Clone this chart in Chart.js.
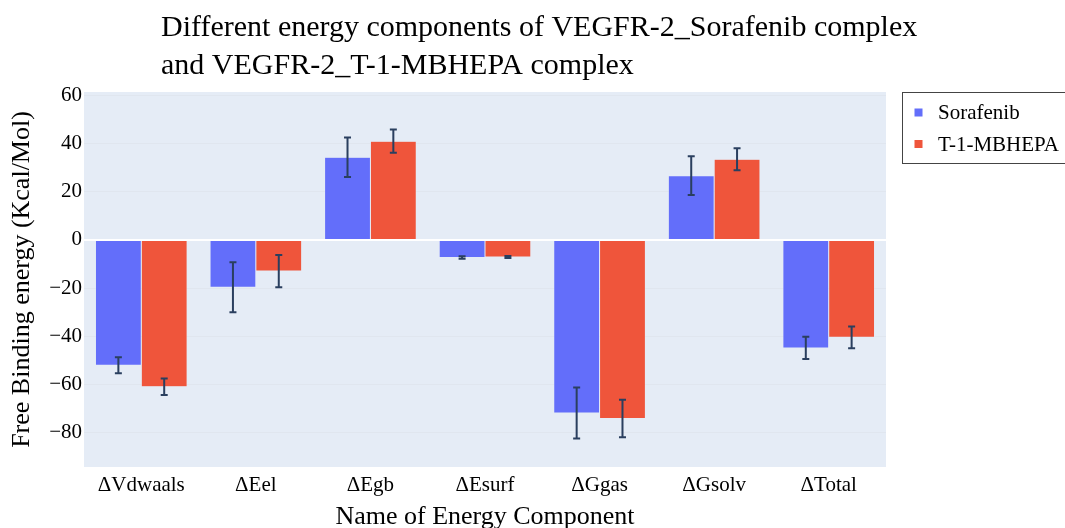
<!DOCTYPE html>
<html>
<head>
<meta charset="utf-8">
<script src="https://cdn.jsdelivr.net/npm/chart.js@4.4.1/dist/chart.umd.min.js"></script>
<style>
html,body{margin:0;padding:0;background:#fff;}
#wrap{position:relative;width:1065px;height:528px;}
</style>
</head>
<body>
<div id="wrap"><canvas id="c" width="1065" height="528"></canvas></div>
<script>
const categories = ['\u0394Vdwaals', '\u0394Eel', '\u0394Egb', '\u0394Esurf', '\u0394Ggas', '\u0394Gsolv', '\u0394Total'];
const sorafenib = [-52.0, -19.6, 34.3, -7.3, -71.8, 26.7, -44.8];
const sorafenibErr = [3.3, 10.4, 8.2, 0.5, 10.6, 8.0, 4.6];
const mbhepa = [-60.9, -12.9, 41.0, -7.05, -74.1, 33.5, -40.4];
const mbhepaErr = [3.4, 6.7, 4.8, 0.4, 7.8, 4.6, 4.5];
const yTickValues = [-80, -60, -40, -20, 0, 20, 40, 60];
const seriesNames = ['Sorafenib', 'T-1-MBHEPA'];
const titleLines = ['Different energy components of VEGFR-2_Sorafenib complex', 'and VEGFR-2_T-1-MBHEPA complex'];

const FONT = "'Liberation Serif', 'Times New Roman', serif";
const TXT = '#000';
const errs = [sorafenibErr, mbhepaErr];

const decorPlugin = {
  id: 'decor',
  afterDatasetsDraw(chart) {
    const ctx = chart.ctx;
    const ys = chart.scales.y;
    ctx.save();
    ctx.strokeStyle = '#2a3f5f';
    ctx.lineWidth = 2;
    chart.data.datasets.forEach((ds, di) => {
      const meta = chart.getDatasetMeta(di);
      meta.data.forEach((el, i) => {
        const v = ds.data[i], e = errs[di][i];
        const x = el.x;
        const y1 = ys.getPixelForValue(v + e);
        const y2 = ys.getPixelForValue(v - e);
        ctx.beginPath();
        ctx.moveTo(x, y1); ctx.lineTo(x, y2);
        ctx.moveTo(x - 3.5, y1); ctx.lineTo(x + 3.5, y1);
        ctx.moveTo(x - 3.5, y2); ctx.lineTo(x + 3.5, y2);
        ctx.stroke();
      });
    });
    ctx.restore();
  },
  afterDraw(chart) {
    const ctx = chart.ctx;
    ctx.save();
    // title
    ctx.fillStyle = TXT;
    ctx.font = '30px ' + FONT;
    ctx.textBaseline = 'alphabetic';
    ctx.textAlign = 'left';
    ctx.fillText(titleLines[0], 161, 36);
    ctx.fillText(titleLines[1], 161, 74);
    // legend
    ctx.fillStyle = '#fff';
    ctx.fillRect(902.5, 92.5, 175, 71);
    ctx.strokeStyle = '#444';
    ctx.lineWidth = 1;
    ctx.strokeRect(902.5, 92.5, 175, 71);
    const ly = [112.5, 144];
    chart.data.datasets.forEach((ds, di) => {
      ctx.fillStyle = ds.backgroundColor;
      ctx.fillRect(914.5, ly[di] - 4, 8, 8);
      ctx.fillStyle = TXT;
      ctx.font = '21px ' + FONT;
      ctx.textBaseline = 'middle';
      ctx.fillText(ds.label, 938, ly[di] + 1);
    });
    // x axis title
    ctx.font = '26px ' + FONT;
    ctx.textAlign = 'center';
    ctx.textBaseline = 'alphabetic';
    ctx.fillText('Name of Energy Component', (chart.chartArea.left + chart.chartArea.right) / 2, 524);
    ctx.restore();
  }
};

new Chart(document.getElementById('c'), {
  type: 'bar',
  data: {
    labels: categories,
    datasets: [
      { label: seriesNames[0], data: sorafenib, backgroundColor: '#636efa', borderColor: '#E5ECF6', borderWidth: 0.5 },
      { label: seriesNames[1], data: mbhepa, backgroundColor: '#EF553B', borderColor: '#E5ECF6', borderWidth: 0.5 }
    ]
  },
  options: {
    responsive: false,
    animation: false,
    devicePixelRatio: 1,
    layout: { padding: { top: 92, right: 179, bottom: 0, left: 0 } },
    datasets: { bar: { categoryPercentage: 0.8, barPercentage: 1.0 } },
    plugins: { legend: { display: false }, title: { display: false }, tooltip: { enabled: false } },
    scales: {
      x: {
        grid: { display: false },
        border: { display: false },
        ticks: { color: TXT, font: { family: FONT, size: 21 }, padding: -2, maxRotation: 0 },
        title: { display: false },
        afterFit(scale) { scale.height = 61; }
      },
      y: {
        min: -94.2, max: 61.4,
        grid: {
          drawTicks: false,
          color: (c) => (c.tick && c.tick.value === 0) ? '#ffffff' : '#e0e6ef',
          lineWidth: (c) => (c.tick && c.tick.value === 0) ? 2 : 1
        },
        border: { display: false },
        afterBuildTicks(scale) { scale.ticks = yTickValues.map(v => ({ value: v })); },
        ticks: {
          color: TXT, font: { family: FONT, size: 21 }, padding: 2,
          callback: (v) => String(v).replace('-', '\u2212')
        },
        title: { display: true, text: 'Free Binding energy (Kcal/Mol)', color: TXT, font: { family: FONT, size: 26 }, padding: { top: 7, bottom: 0 } },
        afterFit(scale) { scale.width = 84; }
      }
    }
  },
  plugins: [{
    id: 'bg',
    beforeDraw(chart) {
      const { ctx, chartArea: a } = chart;
      ctx.save();
      ctx.fillStyle = '#E5ECF6';
      ctx.fillRect(a.left, a.top, a.right - a.left, a.bottom - a.top);
      ctx.restore();
    }
  }, decorPlugin]
});
</script>
</body>
</html>
